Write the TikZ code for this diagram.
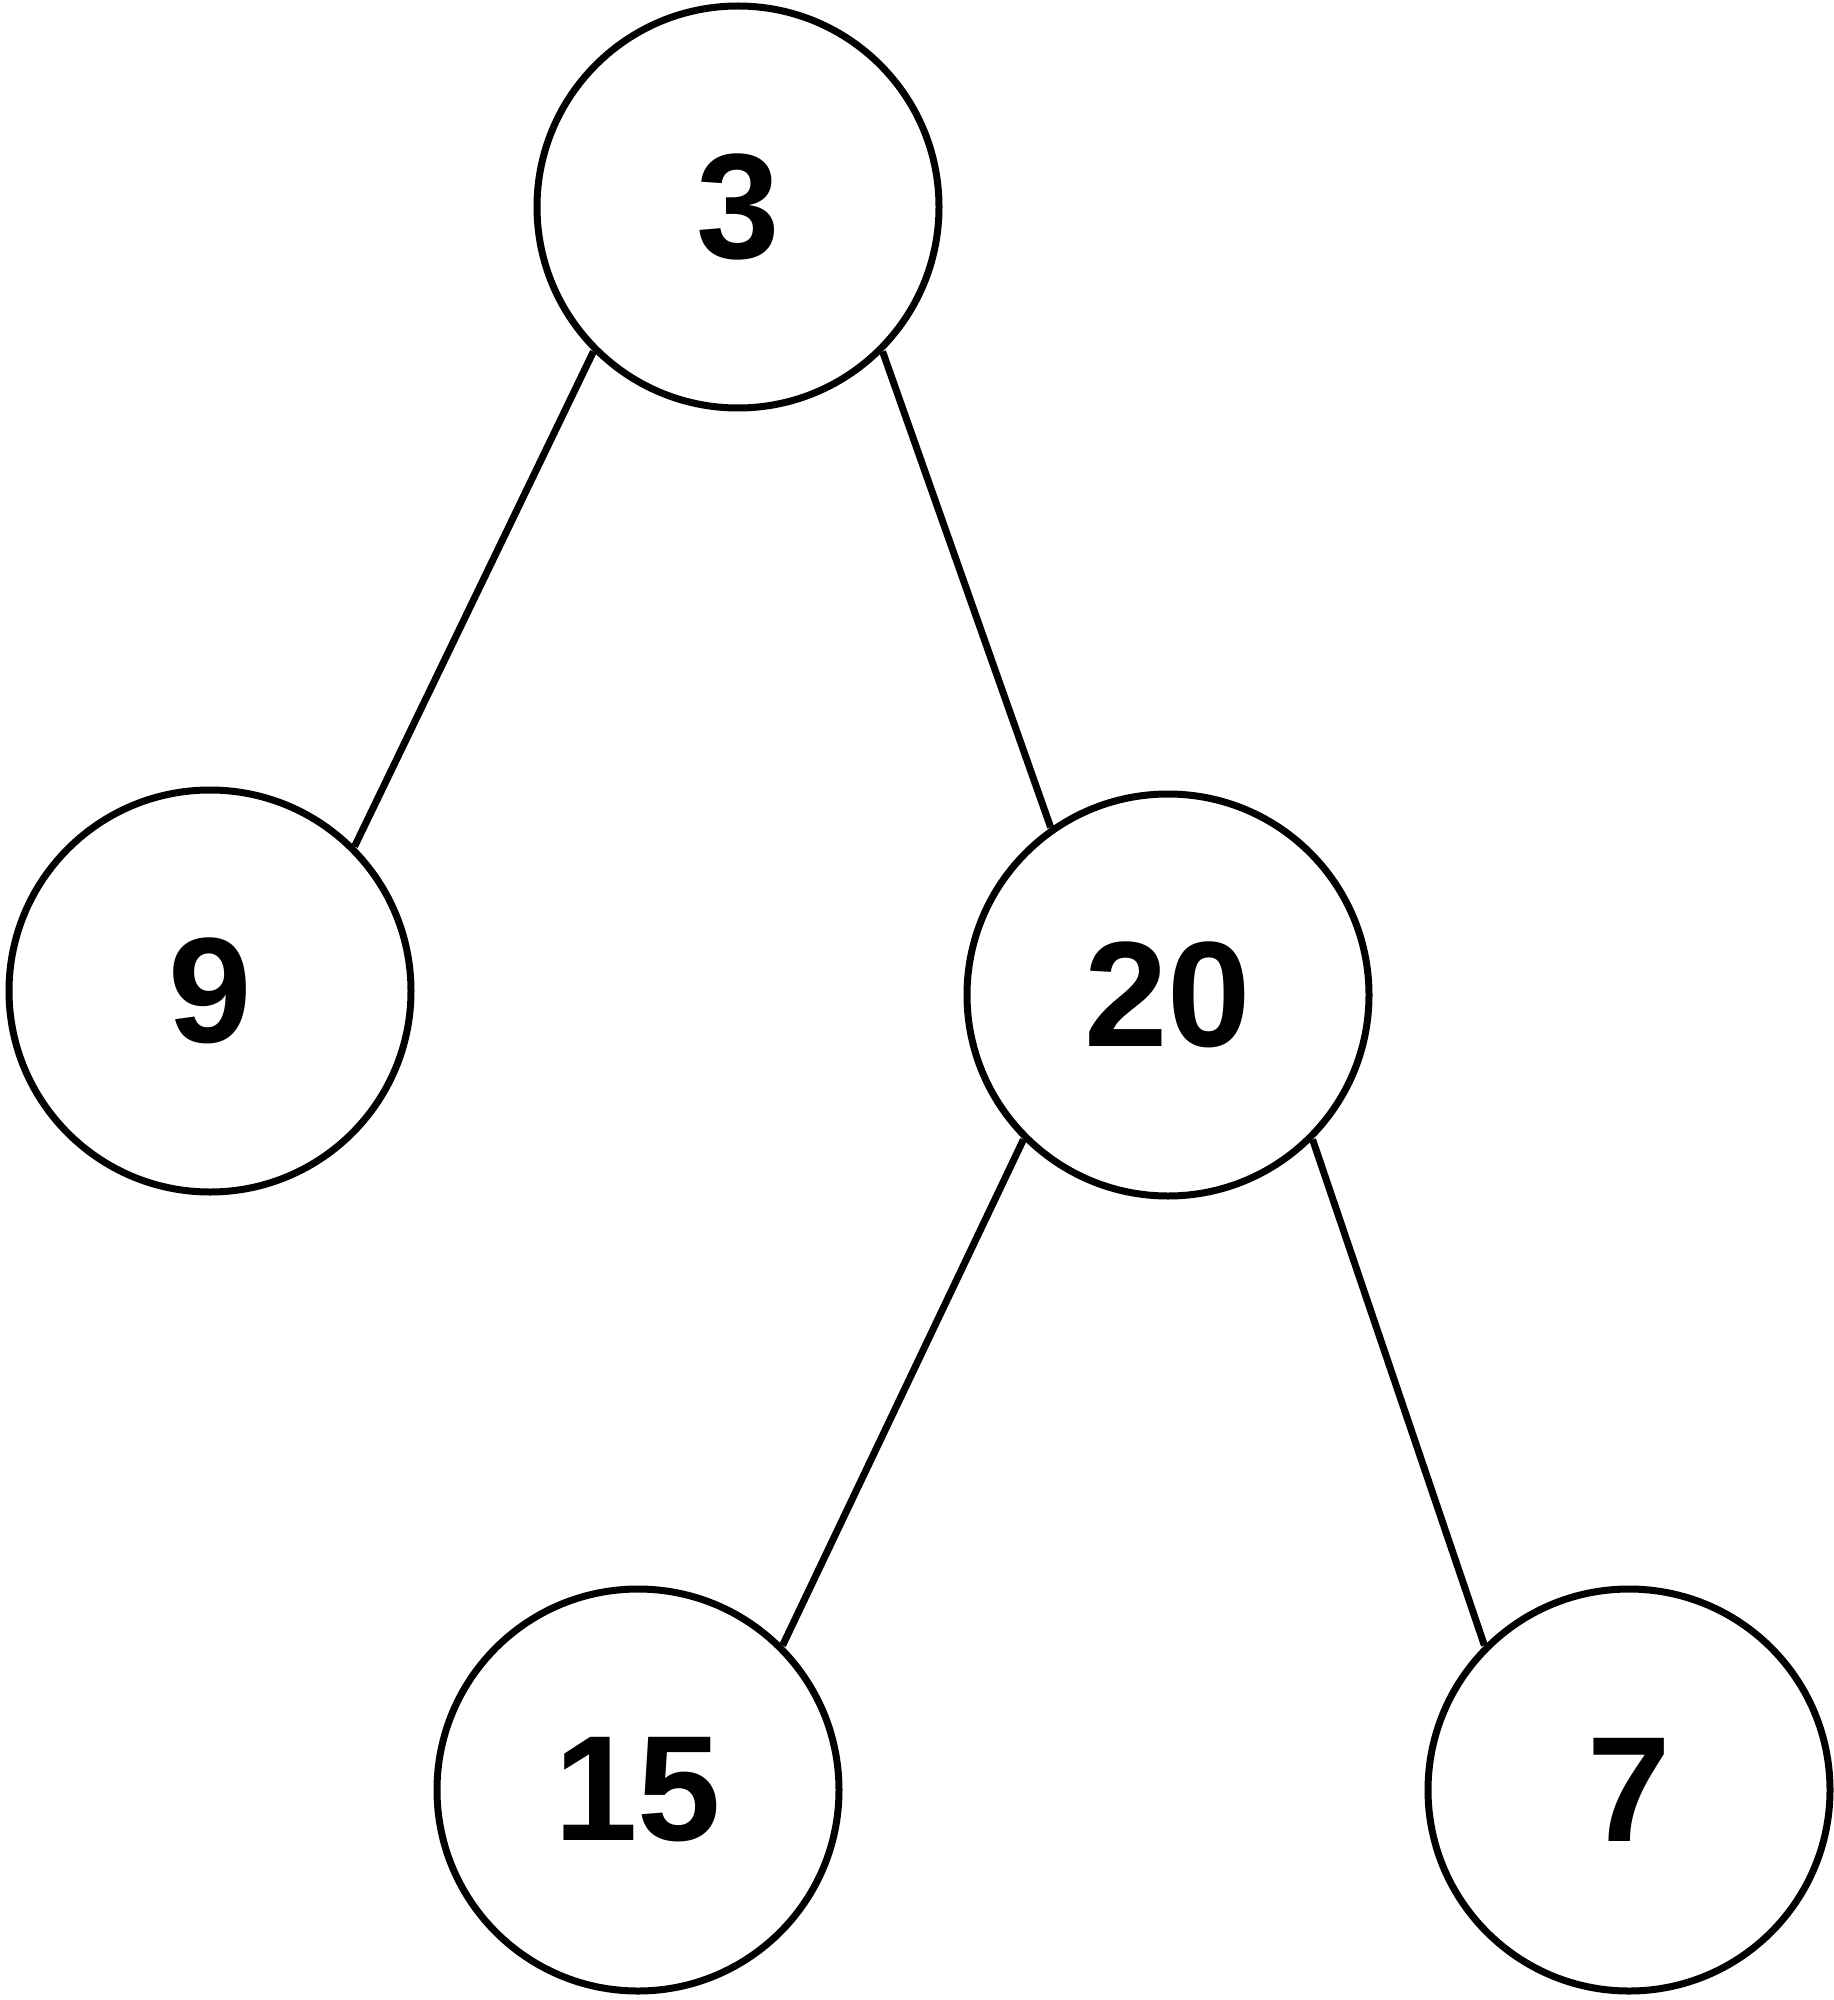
\documentclass[tikz,border=0pt]{standalone}
\usepackage{fontspec}
\setmainfont{Liberation Sans}
\begin{document}
\begin{tikzpicture}[x=0.5pt,y=-0.5pt,
  treenode/.style={circle,draw=black,line width=3.5pt,fill=white,minimum size=201pt,inner sep=0pt,
    font=\fontsize{75}{80}\selectfont\bfseries},
  treeedge/.style={draw=black,line width=3.5pt}]
\useasboundingbox (0,0) rectangle (1834,2000);
\node[treenode] (n3)  at (738,207)   {3};
\node[treenode] (n9)  at (210,991)   {9};
\node[treenode] (n20) at (1168,995)  {20};
\node[treenode] (n15) at (638,1790)  {15};
\node[treenode] (n7)  at (1629,1790) {7};
\draw[treeedge] (n3.-135) -- (n9.45);
\draw[treeedge] (n3.-45) -- (n20.125);
\draw[treeedge] (n20.-135) -- (n15.45);
\draw[treeedge] (n20.-45) -- (n7.135);
\end{tikzpicture}
\end{document}
